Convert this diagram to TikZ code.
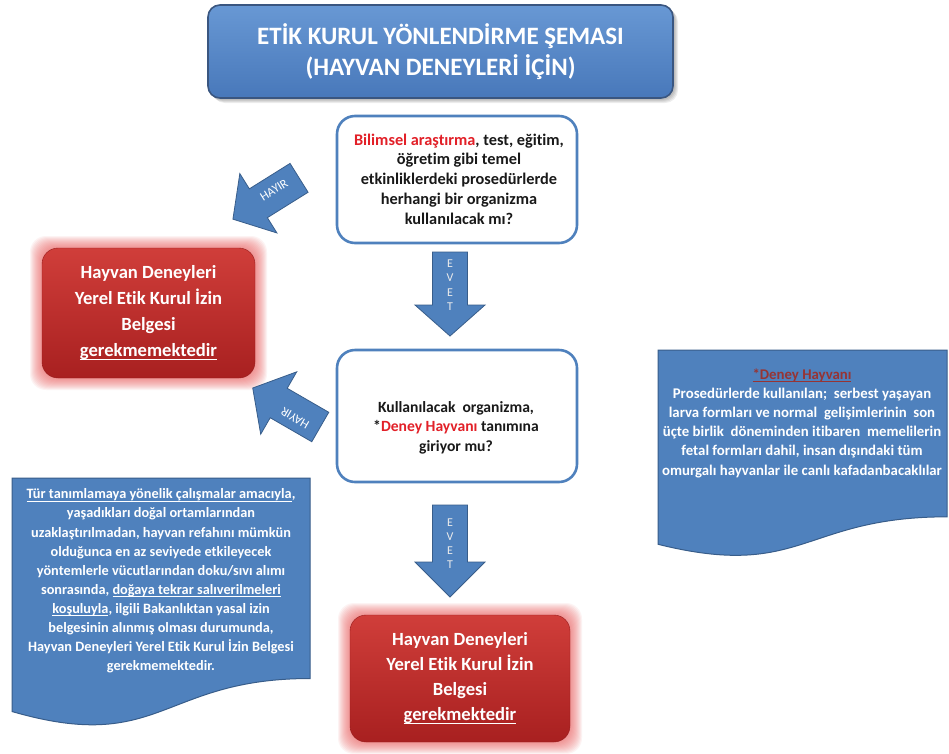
\documentclass[tikz,border=0pt]{standalone}
\usepackage{fontspec}
\setmainfont{Carlito}[Ligatures=NoCommon]
\usetikzlibrary{calc}
\definecolor{blueF}{RGB}{79,129,189}
\definecolor{blueD}{RGB}{56,93,138}
\definecolor{titleTop}{RGB}{104,152,212}
\definecolor{titleBot}{RGB}{72,120,186}
\definecolor{titleEdge}{RGB}{58,86,128}
\definecolor{redTop}{RGB}{208,62,58}
\definecolor{redBot}{RGB}{168,32,32}
\definecolor{glowC}{RGB}{235,85,85}
\definecolor{qred}{RGB}{226,32,40}
\definecolor{dred}{RGB}{150,52,52}
\definecolor{txt}{RGB}{25,25,25}

\newcommand\myul[1]{\setbox0\hbox{#1}\rlap{\rule[-0.2em]{\wd0}{0.07em}}\box0}
\newcommand\blockarr[7]{%
  \begin{scope}[shift={#2}, rotate=#3]
    \path[barrow] (-#4/2,-#5/2) -- (#4/2-#7,-#5/2) -- (#4/2-#7,-#6/2) -- (#4/2,0)
      -- (#4/2-#7,#6/2) -- (#4/2-#7,#5/2) -- (-#4/2,#5/2) -- cycle;
    \coordinate (#1) at (0,0);
  \end{scope}}
\newcommand\glowrect[4]{%
  \foreach \k in {1,...,12}{\fill[glowC, opacity=0.07, rounded corners=16pt]
    (#1-\k,#2-\k) rectangle (#3+\k,#4+\k);}}
\newcommand\docshape[5]{%
  \path[docbox] (#2,#3) -- (#4,#3) -- (#4,#3+0.802*#5)
    .. controls ({(#2+#4)/2},#3+0.802*#5) and ({(#2+#4)/2},#3+1.107*#5) .. (#2,#3+0.934*#5) -- cycle;
  \coordinate (#1) at ({(#2+#4)/2},#3);}

\begin{document}
\begin{tikzpicture}[x=1pt,y=-1pt,
  every node/.style={inner sep=0pt, outer sep=0pt},
  barrow/.style={fill=blueF, draw=blueD, line width=0.8pt, line join=miter},
  docbox/.style={fill=blueF, draw=blueD, line width=1pt},
  qbox/.style={draw=blueF, fill=white, line width=2.6pt, rounded corners=18pt},
  redbox/.style={top color=redTop, bottom color=redBot, draw=redBot!90!black, line width=0.4pt, rounded corners=16pt,
     text=white, align=center},
  qtext/.style={text=txt, align=center},
  doctext/.style={text=white, align=center},
  arrtext/.style={text=white, font=\fontsize{12.5}{14}\selectfont},
  evettext/.style={text=white!92!black, align=center, font=\fontsize{12}{14.5}\selectfont}]
\useasboundingbox (0,0) rectangle (949,753);
\fill[white] (0,0) rectangle (949,753);

% title
\foreach \k in {1,...,4}{\fill[black, opacity=0.07, rounded corners=13pt] (208+\k,5+\k) rectangle (673+\k+1,98+\k+1);}
\node[top color=titleTop, bottom color=titleBot, draw=titleEdge, line width=1.6pt, rounded corners=12pt,
  minimum width=465pt, minimum height=93pt, text=white, align=center,
  font=\fontsize{25}{31}\selectfont\bfseries] (title) at (440.5,51.5)
  {ETİK KURUL YÖNLENDİRME ŞEMASI\\(HAYVAN DENEYLERİ İÇİN)};

% question 1
\node[qbox, minimum width=240pt, minimum height=127pt] (q1) at (457,179.5) {};
\node[qtext, font=\fontsize{16.3}{19.8}\selectfont\bfseries] (q1t) at (459,179) {\textcolor{qred}{Bilimsel araştırma}, test, eğitim,\\öğretim gibi temel\\etkinliklerdeki prosedürlerde\\herhangi bir organizma\\kullanılacak mı?};

% question 2
\node[qbox, minimum width=240pt, minimum height=132pt] (q2) at (457,416) {};
\node[qtext, font=\fontsize{15.6}{19.6}\selectfont\bfseries] (q2t) at (456,427.5) {Kullanılacak\ \ organizma,\\*\textcolor{qred}{Deney Hayvanı} tanımına\\giriyor mu?};

% red box 1
\glowrect{42}{248}{255}{378}
\node[redbox, minimum width=213pt, minimum height=130pt, font=\fontsize{18.6}{26}\selectfont\bfseries] (r1) at (148.5,313)
  {Hayvan Deneyleri\\Yerel Etik Kurul İzin\\Belgesi\\\myul{gerekmemektedir}};

% red box 2
\glowrect{350}{615}{570}{742}
\node[redbox, minimum width=220pt, minimum height=127pt, font=\fontsize{18.6}{24.8}\selectfont\bfseries] (r2) at (460,678.5)
  {Hayvan Deneyleri\\Yerel Etik Kurul İzin\\Belgesi\\\myul{gerekmektedir}};

% block arrows
\blockarr{a1}{(266,198.5)}{212}{78}{34}{70}{30}
\node[arrtext, rotate=32] (a1t) at (274,190) {HAYIR};
\blockarr{a2}{(286.5,407.5)}{150}{78}{34}{72}{30}
\node[arrtext, rotate=150] (a2t) at (295,418) {HAYIR};
\blockarr{e1}{(450,294)}{-90}{84}{35}{70}{31}
\node[evettext] (e1t) at (450,285) {E\\V\\E\\T};
\blockarr{e2}{(450,551)}{-90}{92}{35}{70}{35}
\node[evettext, font=\fontsize{12}{14}\selectfont] (e2t) at (450,544) {E\\V\\E\\T};

% left document box
\docshape{d1}{12}{478}{310}{250}
\node[doctext, font=\fontsize{14.3}{19.1}\selectfont\bfseries] (d1t) at (161,581)
  {\myul{Tür tanımlamaya yönelik çalışmalar amacıyla},\\
   yaşadıkları doğal ortamlarından\\
   uzaklaştırılmadan, hayvan refahını mümkün\\
   olduğunca en az seviyede etkileyecek\\
   yöntemlerle vücutlarından doku/sıvı alımı\\
   sonrasında, \myul{doğaya tekrar salıverilmeleri}\\
   \myul{koşuluyla}, ilgili Bakanlıktan yasal izin\\
   belgesinin alınmış olması durumunda,\\
   Hayvan Deneyleri Yerel Etik Kurul İzin Belgesi\\
   gerekmemektedir.};

% right document box
\docshape{d2}{658}{350}{947}{208}
\node[doctext, font=\fontsize{14.8}{19.2}\selectfont\bfseries] (d2t) at (802,423)
  {\textcolor{dred}{\myul{*Deney Hayvanı}}\\
   Prosedürlerde kullanılan;\ \ serbest yaşayan\\
   larva formları ve normal\ \ gelişimlerinin\ \ son\\
   üçte birlik\ \ döneminden itibaren\ \ memelilerin\\
   fetal formları dahil, insan dışındaki tüm\\
   omurgalı hayvanlar ile canlı kafadanbacaklılar};
\end{tikzpicture}
\end{document}
